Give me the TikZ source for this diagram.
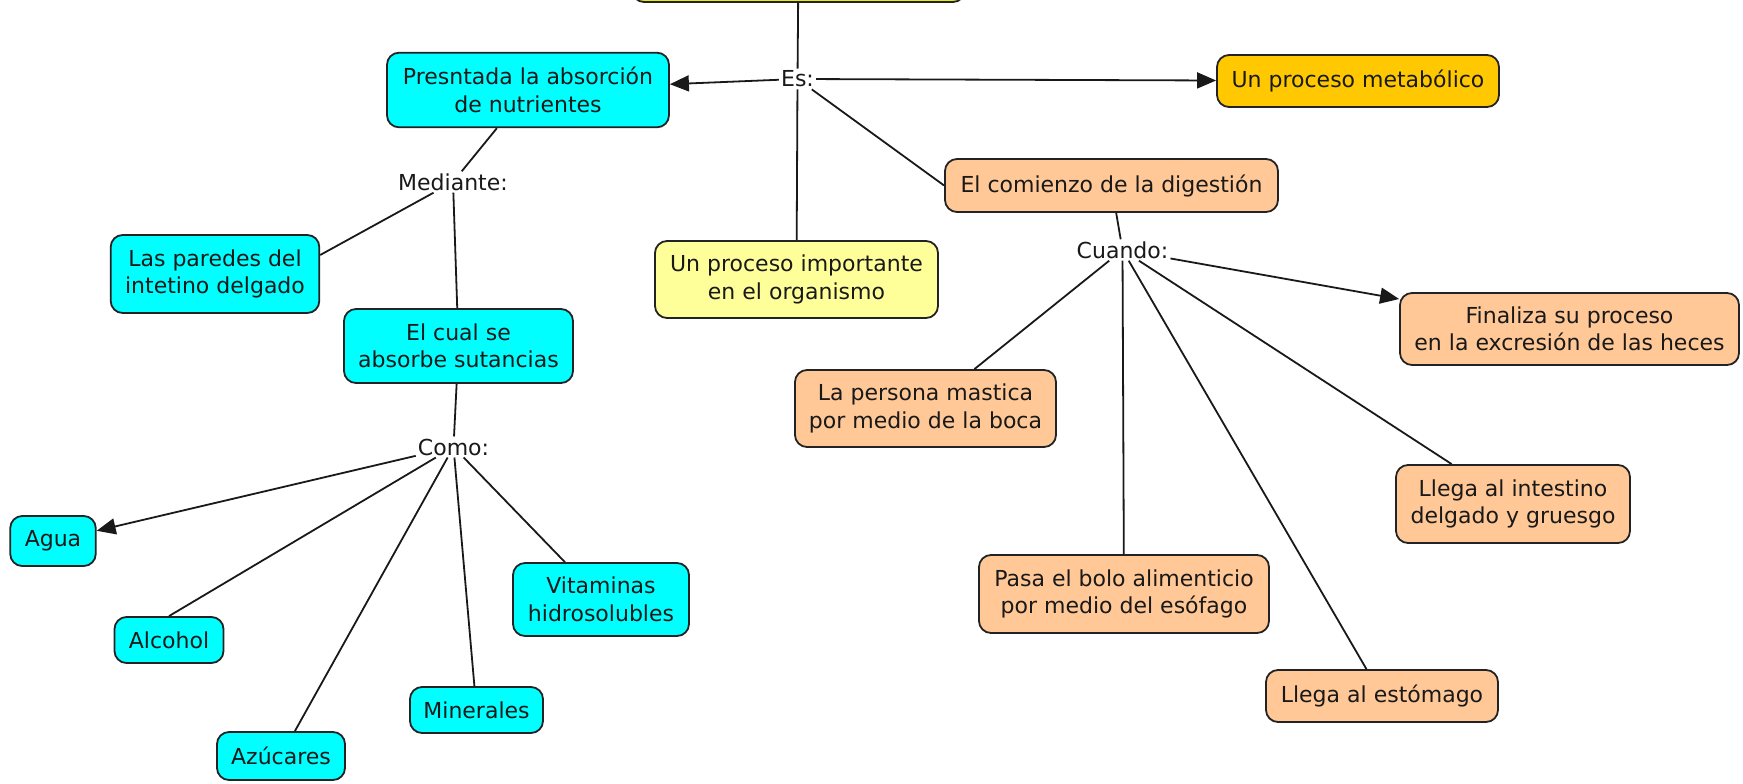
\documentclass[tikz,border=0pt]{standalone}
\usepackage{fontspec}
\setmainfont{DejaVu Sans}
\usetikzlibrary{arrows.meta}
\definecolor{cyanbox}{RGB}{0,255,255}
\definecolor{goldbox}{RGB}{255,200,0}
\definecolor{peachbox}{RGB}{255,200,150}
\definecolor{ltyellow}{RGB}{255,255,153}
\definecolor{topyellow}{RGB}{232,232,30}
\definecolor{edgecol}{RGB}{35,35,35}
\begin{document}
\begin{tikzpicture}[x=1pt,y=-1pt,
  box/.style={draw=edgecol, line width=1.8pt, rounded corners=12pt, align=center, inner sep=0pt,
    font=\fontsize{22}{27.5}\selectfont, text=black!90},
  sz/.style 2 args={minimum width=#1pt, minimum height=#2pt},
  cy/.style={box, fill=cyanbox},
  gd/.style={box, fill=goldbox},
  pc/.style={box, fill=peachbox},
  ly/.style={box, fill=ltyellow},
  lbl/.style={fill=white, inner sep=2pt, font=\fontsize{22}{27.5}\selectfont, text=black!90},
  conn/.style={line width=1.8pt, draw=black!90},
  arr/.style={conn, -{Triangle[length=19pt,width=16pt]}}
]
\useasboundingbox (0,0) rectangle (1743,784);

% boxes
\node[box, fill=topyellow, sz={333}{84}] (top) at (798.5,-40) {};
\node[cy, sz={282}{74.6}] (pres) at (528,90) {Presntada la absorción\\de nutrientes};
\node[gd, sz={282}{52}] (meta) at (1358,81) {Un proceso metabólico};
\node[pc, sz={333}{53}] (comienzo) at (1111.5,185.5) {El comienzo de la digestión};
\node[ly, sz={283}{77}] (imp) at (796.5,279.5) {Un proceso importante\\en el organismo};
\node[cy, sz={208.6}{78}] (paredes) at (215,274) {Las paredes del\\intetino delgado};
\node[cy, sz={229}{74}] (elcual) at (458.5,346) {El cual se\\absorbe sutancias};
\node[cy, sz={85.5}{50}] (agua) at (53,541) {Agua};
\node[cy, sz={109}{46}] (alcohol) at (169,640) {Alcohol};
\node[cy, sz={128}{48}] (azucares) at (281,756) {Azúcares};
\node[cy, sz={133}{46}] (minerales) at (476.5,710) {Minerales};
\node[cy, sz={176}{73}] (vitaminas) at (601,599.5) {Vitaminas\\hidrosolubles};
\node[pc, sz={339}{72}] (finaliza) at (1569.5,329) {Finaliza su proceso\\en la excresión de las heces};
\node[pc, sz={261}{77}] (persona) at (925.5,408.5) {La persona mastica\\por medio de la boca};
\node[pc, sz={234}{78}] (intestino) at (1513,504) {Llega al intestino\\delgado y gruesgo};
\node[pc, sz={290}{78}] (pasa) at (1124,594) {Pasa el bolo alimenticio\\por medio del esófago};
\node[pc, sz={232}{52}] (estomago) at (1382,696) {Llega al estómago};

% linking phrases
\node[lbl] (es) at (797.5,79) {Es:};
\node[lbl] (mediante) at (453,182) {Mediante:};
\node[lbl] (como) at (453.5,447) {Como:};
\node[lbl] (cuando) at (1122.5,250) {Cuando:};

% connectors
\draw[conn] (top) -- (es);
\draw[arr] (es) -- (pres);
\draw[arr] (es) -- (meta);
\draw[conn] (es) -- (imp);
\draw[conn] (es) -- (comienzo.west);
\draw[conn] (pres) -- (mediante);
\draw[conn] (mediante) -- ([yshift=19pt]paredes.east);
\draw[conn] (mediante) -- (elcual);
\draw[conn] (elcual) -- (como);
\draw[arr] (como) -- (agua);
\draw[conn] (como) -- (alcohol.north);
\draw[conn] (como) -- (azucares);
\draw[conn] (como) -- (minerales);
\draw[conn] (como) -- (vitaminas);
\draw[conn] (comienzo) -- (cuando);
\draw[arr] (cuando) -- (finaliza);
\draw[conn] (cuando) -- (persona);
\draw[conn] (cuando) -- (pasa);
\draw[conn] (cuando) -- (intestino);
\draw[conn] (cuando) -- (estomago);
\end{tikzpicture}
\end{document}
